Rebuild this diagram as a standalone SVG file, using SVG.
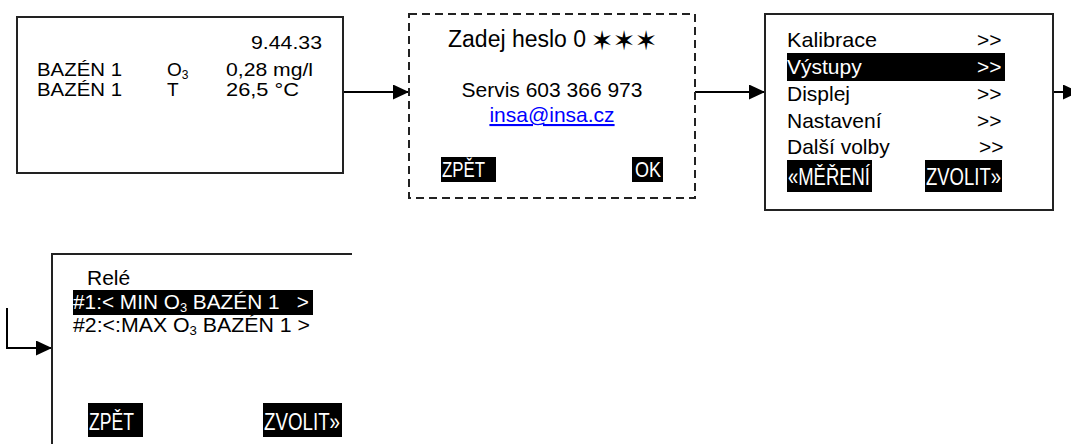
<svg xmlns="http://www.w3.org/2000/svg" width="1071" height="444" viewBox="0 0 1071 444">
<style>
.box{fill:#fff;stroke:#222;stroke-width:2}
.dash{fill:#fff;stroke:#222;stroke-width:2;stroke-dasharray:8 5}
.t{font-family:"Liberation Sans",Arial,sans-serif;fill:#000}
.n{font-family:"Liberation Sans Narrow","Liberation Sans",Arial,sans-serif;fill:#fff}
.hl{fill:#000}
.c{fill:none;stroke:#000;stroke-width:2}
.star{font-family:"DejaVu Sans",sans-serif;fill:#000}
</style>
<defs>
<marker id="ah" markerUnits="userSpaceOnUse" markerWidth="16" markerHeight="15" refX="16" refY="7.5" orient="auto">
<path d="M0,0 L16,7.5 L0,15 Z" fill="#000"/>
</marker>
</defs>
<g id="connectors">
<line class="c" x1="343" y1="92" x2="409" y2="92" marker-end="url(#ah)"/>
<line class="c" x1="695" y1="92" x2="765" y2="92" marker-end="url(#ah)"/>
<line class="c" x1="1053" y1="92" x2="1079" y2="92" marker-end="url(#ah)"/>
<path class="c" d="M7,308 V348 H52" marker-end="url(#ah)"/>
</g>
<g id="node-measure">
<rect class="box" x="17" y="17" width="326" height="156"/>
<text class="t" font-size="19" x="322" y="49" text-anchor="end" textLength="71" lengthAdjust="spacingAndGlyphs">9.44.33</text>
<text class="t" font-size="19" x="37" y="76" textLength="85" lengthAdjust="spacingAndGlyphs">BAZÉN 1</text>
<text class="t" font-size="19" x="167" y="76">O<tspan font-size="12" dy="3">3</tspan></text>
<text class="t" font-size="19" x="226" y="76" textLength="87" lengthAdjust="spacingAndGlyphs">0,28 mg/l</text>
<text class="t" font-size="19" x="37" y="96" textLength="85" lengthAdjust="spacingAndGlyphs">BAZÉN 1</text>
<text class="t" font-size="19" x="167" y="96">T</text>
<text class="t" font-size="19" x="226" y="96" textLength="73" lengthAdjust="spacingAndGlyphs">26,5 °C</text>
</g>
<g id="node-password">
<rect class="dash" x="409" y="14" width="286" height="184"/>
<text class="t" font-size="23" x="448" y="47">Zadej heslo 0</text>
<text class="star" font-size="27" x="602" y="50" text-anchor="middle">✶</text>
<text class="star" font-size="27" x="624" y="50" text-anchor="middle">✶</text>
<text class="star" font-size="27" x="646" y="50" text-anchor="middle">✶</text>
<text class="t" font-size="21" x="552" y="97" text-anchor="middle">Servis 603 366 973</text>
<text class="t" font-size="21" x="552" y="122" text-anchor="middle" style="fill:#0000ff;text-decoration:underline">insa@insa.cz</text>
<rect class="hl" x="441" y="157" width="55" height="25"/>
<text class="n" font-size="22" x="442" y="177" textLength="43" lengthAdjust="spacingAndGlyphs">ZPĚT</text>
<rect class="hl" x="632" y="157" width="31" height="25"/>
<text class="n" font-size="22" x="635" y="177" textLength="26" lengthAdjust="spacingAndGlyphs">OK</text>
</g>
<g id="node-menu">
<rect class="box" x="765" y="14" width="288" height="196"/>
<text class="t" font-size="21" x="787" y="47" textLength="90" lengthAdjust="spacingAndGlyphs">Kalibrace</text>
<text class="t" font-size="21" x="977" y="47">&gt;&gt;</text>
<rect class="hl" x="787" y="53" width="218" height="28"/>
<text class="t" font-size="21" x="787" y="74" style="fill:#fff">Výstupy</text>
<text class="t" font-size="21" x="977" y="74" style="fill:#fff">&gt;&gt;</text>
<text class="t" font-size="21" x="787" y="101">Displej</text>
<text class="t" font-size="21" x="977" y="101">&gt;&gt;</text>
<text class="t" font-size="21" x="787" y="128">Nastavení</text>
<text class="t" font-size="21" x="977" y="128">&gt;&gt;</text>
<text class="t" font-size="21" x="787" y="154">Další volby</text>
<text class="t" font-size="21" x="979" y="154">&gt;&gt;</text>
<rect class="hl" x="787" y="160" width="85" height="32"/>
<text class="n" font-size="23" x="788" y="185" textLength="82" lengthAdjust="spacingAndGlyphs">«MĚŘENÍ</text>
<rect class="hl" x="925" y="160" width="77" height="32"/>
<text class="n" font-size="23" x="926" y="185" textLength="75" lengthAdjust="spacingAndGlyphs">ZVOLIT»</text>
</g>
<g id="node-rele">
<path class="c" d="M52,444 V254 H352" style="stroke:#222"/>
<text class="t" font-size="21" x="87" y="285">Relé</text>
<rect class="hl" x="73" y="290" width="240" height="25"/>
<text class="t" font-size="21" x="73" y="309" style="fill:#fff" textLength="236" lengthAdjust="spacingAndGlyphs">#1:&lt; MIN O<tspan font-size="13" dy="3">3</tspan><tspan dy="-3"> BAZÉN 1&#160;&#160;&#160;&gt;</tspan></text>
<text class="t" font-size="21" x="73" y="332" textLength="237" lengthAdjust="spacingAndGlyphs">#2:&lt;:MAX O<tspan font-size="13" dy="3">3</tspan><tspan dy="-3"> BAZÉN 1 &gt;</tspan></text>
<rect class="hl" x="88" y="403" width="55" height="34"/>
<text class="n" font-size="24" x="89" y="430" textLength="45" lengthAdjust="spacingAndGlyphs">ZPĚT</text>
<rect class="hl" x="263" y="403" width="79" height="34"/>
<text class="n" font-size="24" x="264" y="430" textLength="76" lengthAdjust="spacingAndGlyphs">ZVOLIT»</text>
</g>
</svg>
